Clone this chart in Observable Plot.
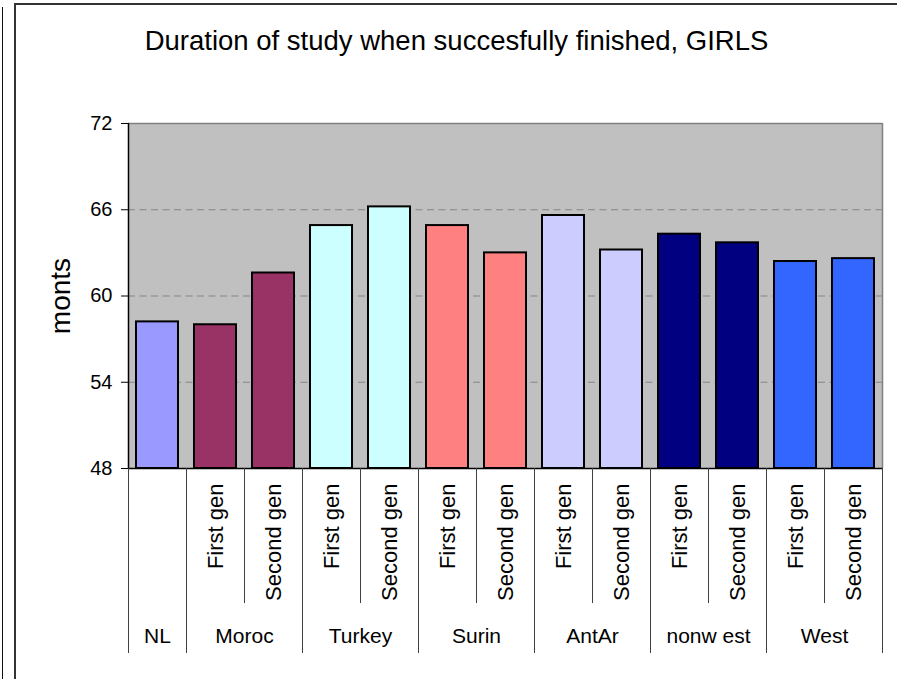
<!DOCTYPE html>
<html><head><meta charset="utf-8">
<script src="https://cdn.jsdelivr.net/npm/d3@7"></script>
<script src="https://cdn.jsdelivr.net/npm/@observablehq/plot@0.6"></script>
<style>
html,body{margin:0;padding:0;background:#fff;}
#wrap{position:relative;width:897px;height:679px;overflow:hidden;font-family:"Liberation Sans",Arial,sans-serif;}
#edge{position:absolute;left:2px;top:7px;width:0;height:700px;border-left:1px solid #111;}
#box{position:absolute;left:14px;top:3px;width:900px;height:700px;border-left:2px solid #333;border-top:2px solid #333;}
#title{position:absolute;left:16px;width:881px;top:25px;text-align:center;font-size:27.5px;color:#000;white-space:nowrap;}
#chart{position:absolute;left:0;top:0;}
</style></head><body>
<div id="wrap"><div id="edge"></div><div id="box"></div><div id="chart"></div>
<div id="title">Duration of study when succesfully finished, GIRLS</div></div>
<script>
// ---- data ----
const groups = ["NL", "Moroc", "Turkey", "Surin", "AntAr", "nonw est", "West"];
const categoryGroup = ["NL", "Moroc", "Moroc", "Turkey", "Turkey", "Surin", "Surin", "AntAr", "AntAr", "nonw est", "nonw est", "West", "West"];
const categoryGen = ["", "First gen", "Second gen", "First gen", "Second gen", "First gen", "Second gen", "First gen", "Second gen", "First gen", "Second gen", "First gen", "Second gen"];
const months = [58.2, 58.0, 61.6, 64.9, 66.2, 64.9, 63.0, 65.6, 63.2, 64.3, 63.7, 62.4, 62.6];
const yTicks = [48, 54, 60, 66, 72];
const yLabel = "monts";
const groupColors = ["#9999FF", "#993366", "#CCFFFF", "#FF8080", "#CCCCFF", "#000080", "#3366FF"];

// ---- layout ----
const W = 897, H = 679, mL = 128, mR = 15, mT = 123, mB = 211;
const subRow = 135, fullRow = 185;
const n = months.length;
const rows = months.map((v, i) => ({i, group: categoryGroup[i], gen: categoryGen[i], v}));
const bounds = d3.range(n + 1).map(i => ({i, long: i === 0 || i === n || categoryGroup[i] !== categoryGroup[i - 1]}));
const spans = groups.map(g => {
  const idx = rows.filter(r => r.group === g).map(r => r.i);
  return {g, mid: (d3.min(idx) + d3.max(idx) + 1) / 2};
});
const yMin = yTicks[0], yMax = yTicks[yTicks.length - 1];

const chart = Plot.plot({
  width: W, height: H,
  marginLeft: mL, marginRight: mR, marginTop: mT, marginBottom: mB,
  style: {fontFamily: "Liberation Sans, Arial, sans-serif", background: "transparent", overflow: "visible", color: "#000"},
  x: {domain: [0, n], axis: null},
  y: {domain: [yMin, yMax], axis: null},
  color: {domain: groups, range: groupColors},
  marks: [
    Plot.frame({fill: "#C0C0C0", stroke: "none"}),
    Plot.ruleY(yTicks.slice(1, -1), {stroke: "#858585", strokeDasharray: "7,4.5", strokeWidth: 1}),
    Plot.ruleY([yMax], {stroke: "#808080", strokeWidth: 1.5}),
    Plot.ruleX([n], {stroke: "#808080", strokeWidth: 1.5}),
    Plot.rect(rows, {x1: "i", x2: d => d.i + 1, y1: yMin, y2: "v", fill: "group", stroke: "#000", strokeWidth: 2, insetLeft: 8, insetRight: 8}),
    Plot.ruleX([0], {stroke: "#000", strokeWidth: 1.5}),
    Plot.ruleY([yMin], {stroke: "#000", strokeWidth: 1.5}),
    Plot.axisY({ticks: yTicks, tickSize: 7, tickPadding: 9, fontSize: 20, label: null, tickFormat: d => String(d)}),
    Plot.text([yLabel], {frameAnchor: "left", text: d => d, rotate: -90, textAnchor: "middle", dx: -67, fontSize: 28}),
    Plot.ruleX(bounds.filter(b => b.long), {x: "i", y1: yMin, y2: yMin, insetBottom: -fullRow, stroke: "#404040", strokeWidth: 1}),
    Plot.ruleX(bounds.filter(b => !b.long), {x: "i", y1: yMin, y2: yMin, insetBottom: -subRow, stroke: "#404040", strokeWidth: 1}),
    Plot.text(rows.filter(r => r.gen), {x: d => d.i + 0.5, y: yMin, text: "gen", rotate: -90, textAnchor: "end", dy: 15, fontSize: 22}),
    Plot.text(spans, {x: "mid", y: yMin, text: "g", dy: 168, fontSize: 21})
  ]
});
document.getElementById("chart").appendChild(chart);
</script>
</body></html>
